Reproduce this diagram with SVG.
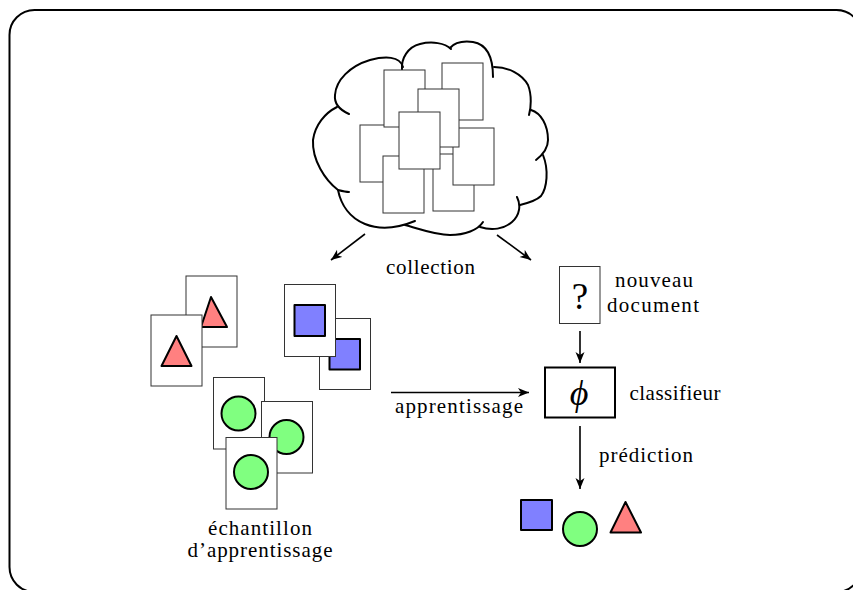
<svg xmlns="http://www.w3.org/2000/svg" width="853" height="590" viewBox="0 0 853 590">
<style>
.doc{fill:#fff;stroke:#333;stroke-width:1}
.shape{stroke:#000;stroke-width:2;stroke-linejoin:round}
.blue{fill:#8080ff}
.green{fill:#80ff80}
.red{fill:#ff8080}
.cloud{fill:none;stroke:#000;stroke-width:2;stroke-linecap:round}
.lbl{font-family:"Liberation Serif","Times New Roman",serif;font-size:21px;fill:#000}
.conn{stroke:#000;stroke-width:1.6;fill:none}
</style>
<defs>
<marker id="arr" markerUnits="userSpaceOnUse" markerWidth="12" markerHeight="10" refX="11" refY="4.5" orient="auto">
<path d="M0,0 L11,4.5 L0,9 L3,4.5 Z" fill="#000"/>
</marker>
</defs>
<rect x="9.5" y="10" width="852" height="582" rx="25" fill="#fff" stroke="#000" stroke-width="2"/>
<g id="collection">
<path class="cloud" d="M349,114 C340,110 334,104 335,95 C336,80 350,66 370,60 C385,56 400,56 403,67"/>
<path class="cloud" d="M402,70 C401,58 408,47 420,44 C432,41 445,43 451,49"/>
<path class="cloud" d="M450,48 C455,42 465,41 473,42 C485,44 493,55 493,77"/>
<path class="cloud" d="M494,67 C508,67 522,74 528,85 C532,95 531,108 529,115"/>
<path class="cloud" d="M531,110 C541,113 548,125 548,140 C548,147 545,153 536,160"/>
<path class="cloud" d="M543,155 C549,170 547,188 541,196 C536,201 528,203 520,205"/>
<path class="cloud" d="M517,197 C521,205 520,215 512,222 C504,229 492,231 480,227"/>
<path class="cloud" d="M483,222 C478,230 465,235 450,235 C435,235 420,229 405,225"/>
<path class="cloud" d="M338,190 C341,205 350,218 365,224 C380,230 398,228 415,221"/>
<path class="cloud" d="M337,107 C325,113 315,125 313,140 C312,160 325,180 338,190 C342,191 346,192 349,192"/>
<rect class="doc" x="442" y="63" width="41" height="57"/>
<rect class="doc" x="360" y="125" width="41" height="57"/>
<rect class="doc" x="384" y="70" width="41" height="57"/>
<rect class="doc" x="383" y="156" width="41" height="57"/>
<rect class="doc" x="433" y="154" width="41" height="57"/>
<rect class="doc" x="453" y="128" width="41" height="57"/>
<rect class="doc" x="418" y="89" width="41" height="58"/>
<rect class="doc" x="399" y="112" width="41" height="57"/>
</g>
<g id="echantillon">
<rect class="doc" x="186" y="276" width="51" height="71"/>
<polygon class="shape red" points="211,297 227,327 201,327"/>
<rect class="doc" x="151" y="315" width="51" height="71"/>
<polygon class="shape red" points="176.5,336 191.5,366 161.5,366"/>
<rect class="doc" x="319.5" y="318.5" width="51" height="71"/>
<rect class="shape blue" x="329.5" y="339" width="30.5" height="30.5"/>
<rect class="doc" x="284.5" y="284.5" width="51" height="72"/>
<rect class="shape blue" x="294.5" y="305" width="30.5" height="31"/>
<rect class="doc" x="213.5" y="377.5" width="51" height="71.5"/>
<circle class="shape green" cx="238.5" cy="413.5" r="17"/>
<rect class="doc" x="261.5" y="401.5" width="51" height="71.5"/>
<circle class="shape green" cx="286.5" cy="437" r="17"/>
<rect class="doc" x="226" y="437.5" width="51" height="71.5"/>
<circle class="shape green" cx="251" cy="472" r="17"/>
<text class="lbl" x="260" y="535" text-anchor="middle" textLength="104">échantillon</text>
<text class="lbl" x="260" y="557" text-anchor="middle" textLength="145">d’apprentissage</text>
</g>
<g id="nouveau-document">
<rect class="doc" x="559.5" y="266.5" width="40.5" height="57"/>
<text x="580" y="309" text-anchor="middle" style="font-family:'Liberation Serif',serif;font-size:37px">?</text>
<text class="lbl" x="654" y="287" text-anchor="middle" textLength="78">nouveau</text>
<text class="lbl" x="653" y="312" text-anchor="middle" textLength="92">document</text>
</g>
<g id="classifieur">
<rect x="545" y="367.5" width="70" height="50" fill="#fff" stroke="#000" stroke-width="2"/>
<text x="579" y="405" text-anchor="middle" style="font-family:'Liberation Serif',serif;font-size:36px;font-style:italic">ϕ</text>
<text class="lbl" x="675" y="400" text-anchor="middle" textLength="91">classifieur</text>
</g>
<g id="prediction">
<rect class="shape blue" x="521" y="500" width="31" height="30"/>
<circle class="shape green" cx="580" cy="529" r="17"/>
<polygon class="shape red" points="625.5,502 641,532.5 610.5,532.5"/>
</g>
<g id="connectors">
<line class="conn" x1="365" y1="234" x2="331" y2="260" marker-end="url(#arr)"/>
<line class="conn" x1="497" y1="235" x2="531" y2="260" marker-end="url(#arr)"/>
<text class="lbl" x="430.5" y="274" text-anchor="middle" textLength="89">collection</text>
<line class="conn" x1="580" y1="331" x2="580" y2="363" marker-end="url(#arr)"/>
<line class="conn" x1="391" y1="392.5" x2="529" y2="392.5" marker-end="url(#arr)"/>
<text class="lbl" x="459" y="413" text-anchor="middle" textLength="128">apprentissage</text>
<line class="conn" x1="580" y1="426" x2="580" y2="489" marker-end="url(#arr)"/>
<text class="lbl" x="646" y="462" text-anchor="middle" textLength="94">prédiction</text>
</g>
</svg>
